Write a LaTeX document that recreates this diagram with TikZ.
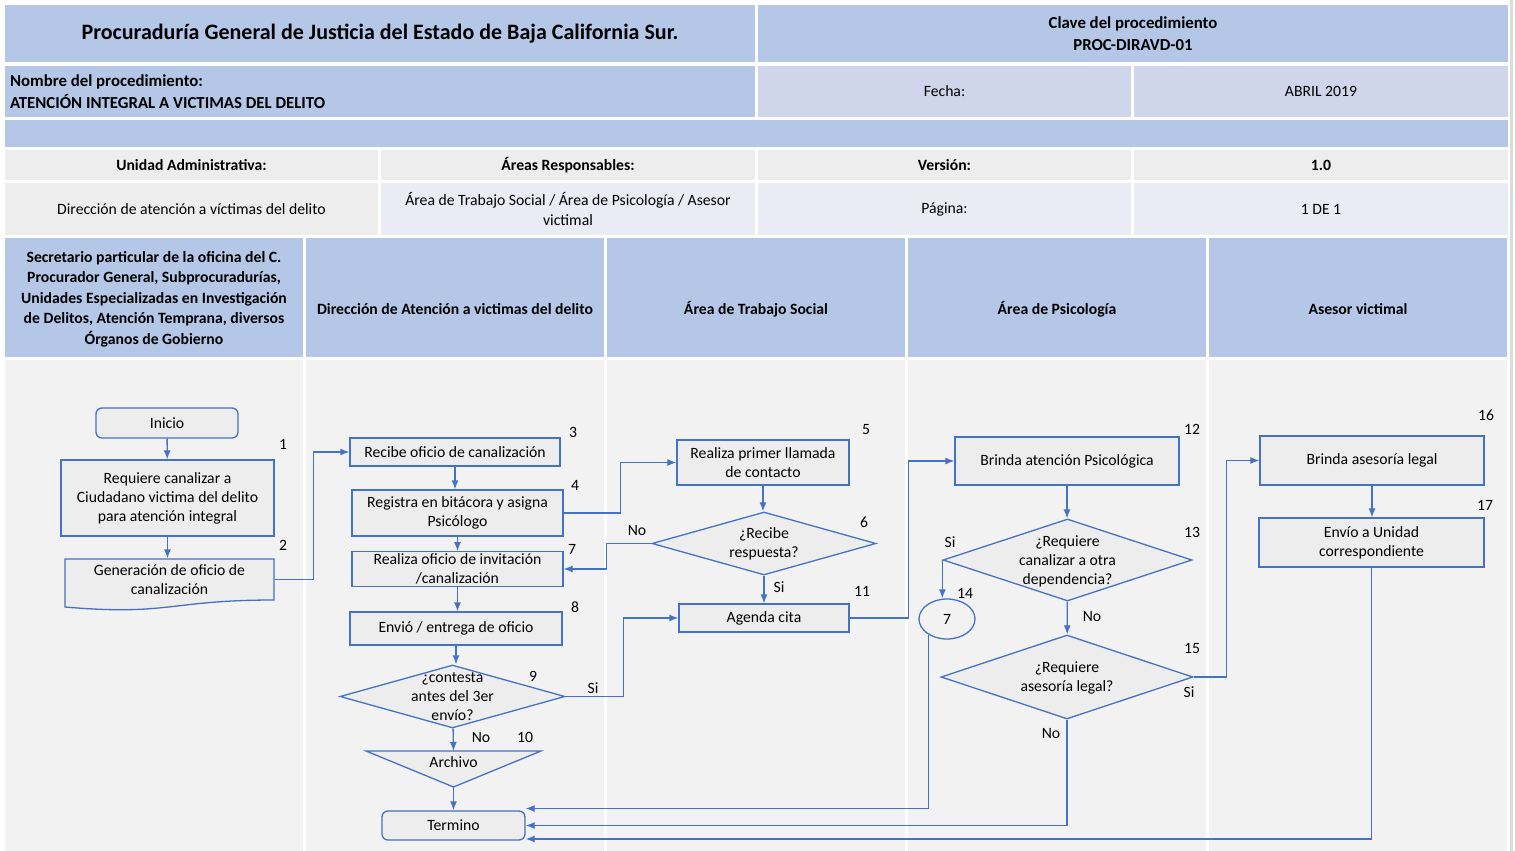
\documentclass[tikz,border=0pt]{standalone}
\usepackage{fontspec}
\setmainfont{Carlito}
\usepackage{tikz}
\usetikzlibrary{arrows.meta, shapes.geometric}

\definecolor{headblue}{HTML}{B4C7E7}
\definecolor{datelav}{HTML}{CFD5EA}
\definecolor{softlav}{HTML}{E9EBF5}
\definecolor{cellgray}{HTML}{EDEDED}
\definecolor{lanegray}{HTML}{F2F2F2}
\definecolor{edgegray}{HTML}{DCDCDC}
\definecolor{boxfill}{HTML}{EDEDED}
\definecolor{flowblue}{HTML}{4472C4}

\newcommand{\flowfont}{\fontsize{15.7}{19}\selectfont}
\newcommand{\laneheadfont}{\fontsize{15.7}{20.5}\selectfont\bfseries}
\newcommand{\titlefont}{\fontsize{22}{26}\selectfont\bfseries}
\newcommand{\clavefont}{\fontsize{16.8}{22}\selectfont\bfseries}

\begin{document}
\begin{tikzpicture}[
            x = 1pt, y = -1pt, % one unit per pixel, y grows downward
            > = {Latex[length=9pt, width=7pt]}, % arrow head style
            line width = 1.3pt,
            font = \flowfont
        ]

        \tikzstyle{cell}=[inner sep = 0, align = center]
        \tikzstyle{box}=[draw = flowblue, fill = boxfill, align = center, inner sep = 2]
        \tikzstyle{terminal}=[box, rounded corners = 6]
        \tikzstyle{decision}=[diamond, draw = flowblue, fill = boxfill, inner sep = 0]
        \tikzstyle{txt}=[align = center, inner sep = 0]
        \tikzstyle{num}=[inner sep = 0]
        \tikzstyle{flow}=[->, draw = flowblue]

        \useasboundingbox (0,0) rectangle (1515,851);
        \fill[white] (0,0) rectangle (1515,851);
        \fill[edgegray] (1510,0) rectangle (1512.5,851);

        % header table
        \node[cell, fill = headblue, minimum width = 750, minimum height = 57, font = \titlefont] (titulo) at (380,33.5)
            {Procuraduría General de Justicia del Estado de Baja California Sur.};
        \node[cell, fill = headblue, minimum width = 750, minimum height = 57, font = \clavefont] (clave) at (1133,33.5)
            {Clave del procedimiento\\PROC-DIRAVD-01};
        \node[cell, fill = headblue, minimum width = 750, minimum height = 51, text width = 740, align = flush left,
            font = \fontsize{16.8}{22}\selectfont\bfseries] (nombre) at (380,91.5)
            {Nombre del procedimiento:\\ATENCIÓN INTEGRAL A VICTIMAS DEL DELITO};
        \node[cell, fill = datelav, minimum width = 373, minimum height = 51] (fecha) at (944.5,91.5) {Fecha:};
        \node[cell, fill = datelav, minimum width = 374, minimum height = 51] (fechaval) at (1321,91.5) {ABRIL 2019};
        \node[cell, fill = headblue, minimum width = 1503, minimum height = 27] (barra) at (756.5,133.5) {};

        \node[cell, fill = cellgray, minimum width = 373, minimum height = 30, font = \flowfont\bfseries] (unidad) at (191.5,165) {Unidad Administrativa:};
        \node[cell, fill = cellgray, minimum width = 374, minimum height = 30, font = \flowfont\bfseries] (areas) at (568,165) {Áreas Responsables:};
        \node[cell, fill = cellgray, minimum width = 373, minimum height = 30, font = \flowfont\bfseries] (version) at (944.5,165) {Versión:};
        \node[cell, fill = cellgray, minimum width = 374, minimum height = 30, font = \flowfont\bfseries] (versionval) at (1321,165) {1.0};

        \node[cell, fill = cellgray, minimum width = 373, minimum height = 52] (unidadval) at (191.5,209) {Dirección de atención a víctimas del delito};
        \node[cell, fill = softlav, minimum width = 374, minimum height = 52, font = \fontsize{15.7}{20}\selectfont] (areasval) at (568,209)
            {Área de Trabajo Social / Área de Psicología / Asesor\\victimal};
        \node[cell, fill = softlav, minimum width = 373, minimum height = 52] (pagina) at (944.5,209) {Página:};
        \node[cell, fill = softlav, minimum width = 374, minimum height = 52] (paginaval) at (1321,209) {1 DE 1};

        % swimlanes
        \foreach \i/\ty/\txt in {0/299/{Secretario particular de la oficina del C.\\Procurador General, Subprocuradurías,\\Unidades Especializadas en Investigación\\de Delitos, Atención Temprana, diversos\\Órganos de Gobierno},
                1/309/{Dirección de Atención a victimas del delito}, 2/309/{Área de Trabajo Social}, 3/309/{Área de Psicología}, 4/309/{Asesor victimal}} {
            \node[cell, fill = headblue, minimum width = 298, minimum height = 119] (carril\i) at (154+301*\i, 297.5) {};
            \node[cell, font = \laneheadfont] (carriltxt\i) at (154+301*\i, \ty) {\txt};
            \node[cell, fill = lanegray, minimum width = 298, minimum height = 491] (fondo\i) at (154+301*\i, 605.5) {};
        }

        % flow steps
        \node[terminal, minimum width = 142, minimum height = 30] (inicio) at (167,423) {Inicio};
        \node[box, minimum width = 213, minimum height = 76] (req) at (167.5,498)
            {Requiere canalizar a\\Ciudadano victima del delito\\para atención integral};
        \draw[draw = flowblue, fill = boxfill] (65,559) -- (274,559) -- (274,600)
            .. controls (169.5,600) and (169.5,616) .. (65,607) -- cycle; % document shape
        \node[txt, minimum width = 209, minimum height = 41] (gen) at (169.5,579.5) {Generación de oficio de\\canalización};

        \node[box, minimum width = 210, minimum height = 28] (rec) at (455,452) {Recibe oficio de canalización};
        \node[box, minimum width = 211, minimum height = 46] (reg) at (457.5,513) {Registra en bitácora y asigna\\Psicólogo};
        \node[box, minimum width = 211, minimum height = 34] (ofi) at (457.5,569) {Realiza oficio de invitación\\/canalización};
        \node[box, minimum width = 212, minimum height = 33] (env) at (456,628.5) {Envió / entrega de oficio};
        \node[decision, minimum width = 225, minimum height = 63] (cont) at (452.5,696.5) {};
        \node[txt] (cont-t) at (452.5,697) {¿contesta\\antes del 3er\\envío?};
        \coordinate (arch-n) at (453.5,751);
        \coordinate (arch-s) at (453.5,787);
        \draw[draw = flowblue, fill = boxfill] (arch-n) ++(-87.5,0) -- ++(175,0) -- (arch-s) -- cycle; % merge triangle
        \node[txt] (arch) at (453.5,762) {Archivo};
        \node[terminal, minimum width = 143, minimum height = 29] (termino) at (453.5,825.5) {Termino};

        \node[box, minimum width = 172, minimum height = 45] (llam) at (763,462.5) {Realiza primer llamada\\de contacto};
        \node[decision, minimum width = 224, minimum height = 63] (resp) at (764,543.5) {};
        \node[txt] (resp-t) at (764,544) {¿Recibe\\respuesta?};
        \node[box, minimum width = 170, minimum height = 28] (cita) at (764,618) {Agenda cita};

        \node[box, minimum width = 224, minimum height = 48] (psic) at (1067,461) {Brinda atención Psicológica};
        \node[decision, minimum width = 249, minimum height = 82] (canal) at (1067.5,560) {};
        \node[txt] (canal-t) at (1067.5,561) {¿Requiere\\canalizar a otra\\dependencia?};
        \node[ellipse, draw = flowblue, minimum width = 56, minimum height = 40, inner sep = 0] (siete) at (947,619) {7};
        \node[decision, minimum width = 252, minimum height = 84] (legal) at (1067,677) {};
        \node[txt] (legal-t) at (1067,677.5) {¿Requiere\\asesoría legal?};

        \node[box, minimum width = 224, minimum height = 49] (ases) at (1372,460.5) {Brinda asesoría legal};
        \node[box, minimum width = 225, minimum height = 49] (unid) at (1371.5,542.5) {Envío a Unidad\\correspondiente};

        % step numbers
        \foreach \n/\x/\y in {1/283/444, 2/283/545, 3/573/432, 4/575/485, 5/866/430, 6/864/522,
                7/572/549, 8/575/607, 9/533/676, 10/525/737, 11/862/591, 12/1192/429,
                13/1192/532, 14/965/593, 15/1192/648, 16/1486/415, 17/1485/505}
            \node[num] (paso\n) at (\x,\y) {\n};

        % answers
        \node[num] (no6) at (637,531) {No};
        \node[num] (si6) at (779,587) {Si};
        \node[num] (si9) at (593,688) {Si};
        \node[num] (no9) at (481,738) {No};
        \node[num] (si13) at (950,542) {Si};
        \node[num] (no13) at (1092,617) {No};
        \node[num] (si15) at (1189,692) {Si};
        \node[num] (no15) at (1051,734) {No};

        % connectors
        \draw[flow] (inicio) -- (req);
        \draw[flow] (req) -- (req |- gen.north);
        \draw[flow] (gen.east) -- ++(39,0) |- (rec);
        \draw[flow] (rec) -- (rec |- reg.north);
        \draw[flow] (reg) -- (ofi);
        \draw[flow] (reg.east) -- ++(57,0) |- (llam);
        \draw[flow] (llam) -- (llam |- resp.north);
        \draw[flow] (resp.west) -- ++(-45,0) |- (ofi);
        \draw[flow] (resp) -- (cita);
        \draw[flow] (ofi) -- (ofi |- env.north);
        \draw[flow] (env) -- (env |- cont.north);
        \draw[flow] (cont.east) -- ++(58,0) |- (cita);
        \draw[flow] (cont) -- (arch-n);
        \draw[flow] (arch-s) -- (termino);
        \draw[flow] (cita.east) -- ++(59,0) |- (psic);
        \draw[flow] (psic) -- (psic |- canal.north);
        \draw[flow] (canal.west) -- (canal.west |- siete.north);
        \draw[flow] (canal) -- (legal);
        \draw[flow] (siete.220) |- ([yshift=17pt]termino.east);
        \draw[flow] (legal.south) |- (termino.east);
        \draw[flow] (legal.east) -- ++(33,0) |- (ases);
        \draw[flow] (ases) -- (ases |- unid.north);
        \draw[flow] (unid.south) |- ([yshift=-13.5pt]termino.east);

  \end{tikzpicture}
\end{document}
